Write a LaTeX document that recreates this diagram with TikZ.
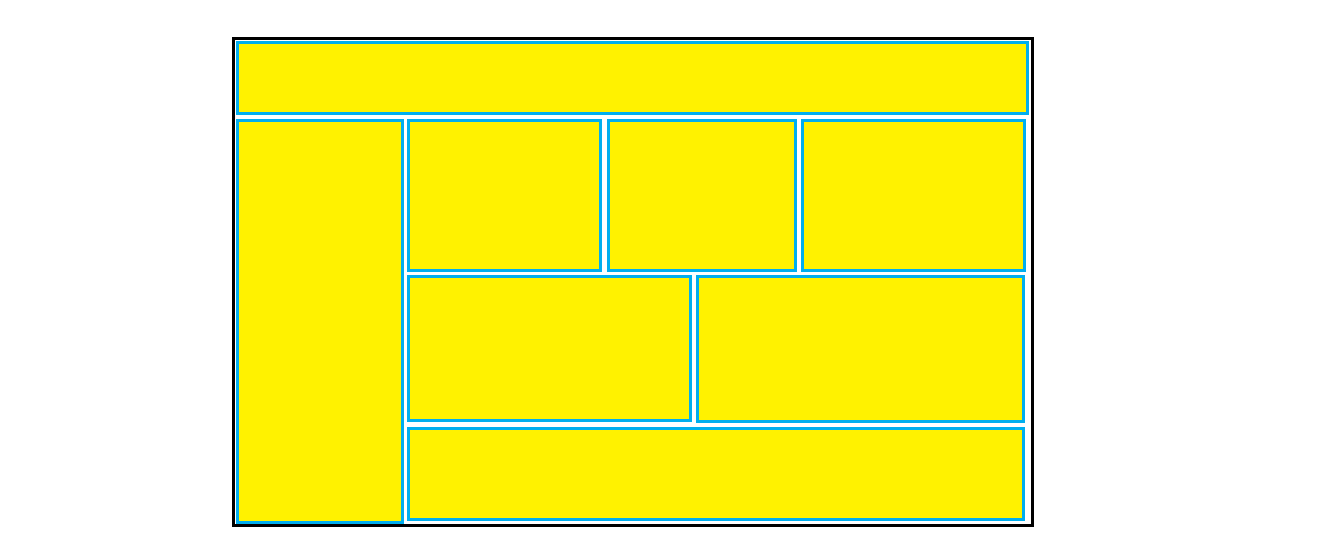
\documentclass[tikz,border=0pt]{standalone}
\definecolor{boxyellow}{HTML}{FFF200}
\definecolor{boxblue}{HTML}{00AEEF}
\begin{document}
\begin{tikzpicture}[x=1pt,y=-1pt,
  panel/.style={draw=boxblue,fill=boxyellow,line width=3pt,inner sep=0pt,outer sep=0pt,anchor=north west},
  frame/.style={draw=black,line width=3pt,inner sep=0pt,outer sep=0pt,anchor=north west}]
\useasboundingbox (0,0) rectangle (1317,543);
\node[frame,minimum width=799pt,minimum height=487pt] (outer) at (233.5,38.5) {};
\node[panel,minimum width=789.5pt,minimum height=71pt] (top) at (237.5,42.5) {};
\node[panel,minimum width=165pt,minimum height=401.5pt] (left) at (237.5,120.5) {};
\node[panel,minimum width=192pt,minimum height=150pt] (a) at (408.5,120.5) {};
\node[panel,minimum width=187pt,minimum height=150pt] (b) at (608.5,120.5) {};
\node[panel,minimum width=222pt,minimum height=150pt] (c) at (802.5,120.5) {};
\node[panel,minimum width=282pt,minimum height=144pt] (d) at (408.5,276.5) {};
\node[panel,minimum width=326pt,minimum height=145pt] (e) at (697.5,276.5) {};
\node[panel,minimum width=615pt,minimum height=91pt] (f) at (408.5,428.5) {};
\end{tikzpicture}
\end{document}
